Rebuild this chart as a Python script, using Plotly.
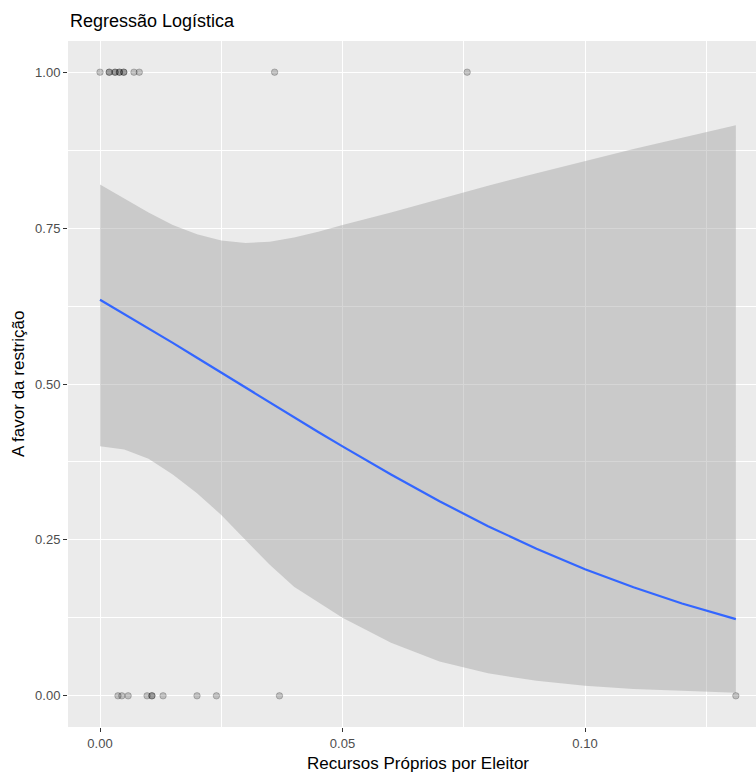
import plotly.graph_objects as go

# Observed data (x = Recursos Próprios por Eleitor, y = A favor da restrição)
pts_x_top = [0.0, 0.0019, 0.0019, 0.0031, 0.0031, 0.0040, 0.0040, 0.0049, 0.0049, 0.0070, 0.0081, 0.0360, 0.0757]
pts_y_top = [1] * len(pts_x_top)
pts_x_bot = [0.0037, 0.0045, 0.0058, 0.0097, 0.0107, 0.0107, 0.0130, 0.0200, 0.0240, 0.0370, 0.1311]
pts_y_bot = [0] * len(pts_x_bot)

# Fitted logistic curve and confidence band
fit_x = [0.0, 0.005, 0.01, 0.015, 0.02, 0.025, 0.03, 0.035, 0.04, 0.045, 0.05, 0.06, 0.07,
         0.08, 0.09, 0.10, 0.11, 0.12, 0.1311]
fit_y = [0.635, 0.612, 0.590, 0.566, 0.542, 0.518, 0.495, 0.471, 0.447, 0.423, 0.400, 0.355,
         0.312, 0.272, 0.236, 0.203, 0.174, 0.148, 0.123]
upper = [0.820, 0.798, 0.775, 0.755, 0.740, 0.730, 0.726, 0.728, 0.735, 0.744, 0.755, 0.775,
         0.797, 0.818, 0.838, 0.858, 0.877, 0.895, 0.915]
lower = [0.400, 0.395, 0.380, 0.355, 0.325, 0.290, 0.250, 0.210, 0.175, 0.150, 0.125, 0.085,
         0.055, 0.036, 0.024, 0.016, 0.011, 0.008, 0.005]

x_ticks = [0.0, 0.05, 0.10]
x_tick_labels = ["0.00", "0.05", "0.10"]
y_ticks = [0.0, 0.25, 0.5, 0.75, 1.0]
y_tick_labels = ["0.00", "0.25", "0.50", "0.75", "1.00"]

title_text = "Regressão Logística"
x_title = "Recursos Próprios por Eleitor"
y_title = "A favor da restrição"

FONT = "Liberation Sans, Arial, sans-serif"
W, H = 756, 772
L, R, T, B = 68, 0, 41, 45

fig = go.Figure()

fig.add_trace(go.Scatter(x=fit_x, y=upper, mode="lines", line=dict(width=0),
                         hoverinfo="skip", showlegend=False))
fig.add_trace(go.Scatter(x=fit_x, y=lower, mode="lines", line=dict(width=0),
                         fill="tonexty", fillcolor="rgba(153,153,153,0.4)",
                         hoverinfo="skip", showlegend=False))

for xs, ys in [(pts_x_top, pts_y_top), (pts_x_bot, pts_y_bot)]:
    fig.add_trace(go.Scatter(x=xs, y=ys, mode="markers",
                             marker=dict(size=6.5, color="rgba(0,0,0,0.2)",
                                         line=dict(width=0.8, color="rgba(0,0,0,0.25)")),
                             showlegend=False))

fig.add_trace(go.Scatter(x=fit_x, y=fit_y, mode="lines",
                         line=dict(color="#3366FF", width=2.2), showlegend=False))

x_left = -0.0066
x_right = x_left + (W - L - R) / 4850.0
pw, ph = W - L - R, H - T - B

fig.update_layout(
    width=W, height=H,
    margin=dict(l=L, r=R, t=T, b=B, autoexpand=False),
    paper_bgcolor="white",
    plot_bgcolor="#EBEBEB",
    font=dict(family=FONT, color="black"),
    xaxis=dict(
        range=[x_left, x_right], tickmode="array", tickvals=x_ticks, ticktext=x_tick_labels,
        showgrid=True, gridcolor="white", gridwidth=1.1, zeroline=False, automargin=False,
        ticks="outside", ticklen=4, tickcolor="#333333", tickwidth=1,
        tickfont=dict(size=13, color="#4D4D4D", family=FONT),
        minor=dict(tickmode="array", tickvals=[0.025, 0.075, 0.125], showgrid=True,
                   gridcolor="white", gridwidth=0.5, ticks=""),
        showline=False,
    ),
    yaxis=dict(
        range=[-0.05, 1.05], tickmode="array", tickvals=y_ticks, ticktext=y_tick_labels,
        showgrid=True, gridcolor="white", gridwidth=1.1, zeroline=False, automargin=False,
        ticks="outside", ticklen=4, tickcolor="#333333", tickwidth=1,
        tickfont=dict(size=13, color="#4D4D4D", family=FONT),
        minor=dict(tickmode="array", tickvals=[0.125, 0.375, 0.625, 0.875], showgrid=True,
                   gridcolor="white", gridwidth=0.5, ticks=""),
        showline=False,
    ),
    annotations=[
        dict(text=title_text, xref="paper", yref="paper", x=0, y=1 + (T - 21) / ph,
             xanchor="left", yanchor="middle", showarrow=False,
             font=dict(size=18, color="black", family=FONT)),
        dict(text=x_title, xref="paper", yref="paper", x=(418 - L) / pw, y=-(763 - (H - B)) / ph,
             xanchor="center", yanchor="middle", showarrow=False,
             font=dict(size=17, color="black", family=FONT)),
        dict(text=y_title, xref="paper", yref="paper", x=-(L - 18) / pw, y=0.5,
             xanchor="center", yanchor="middle", showarrow=False, textangle=-90,
             font=dict(size=17, color="black", family=FONT)),
    ],
)

fig.write_html("out.html", config={"displayModeBar": False},
               post_script="document.body.style.margin='0';document.body.style.padding='0';")
